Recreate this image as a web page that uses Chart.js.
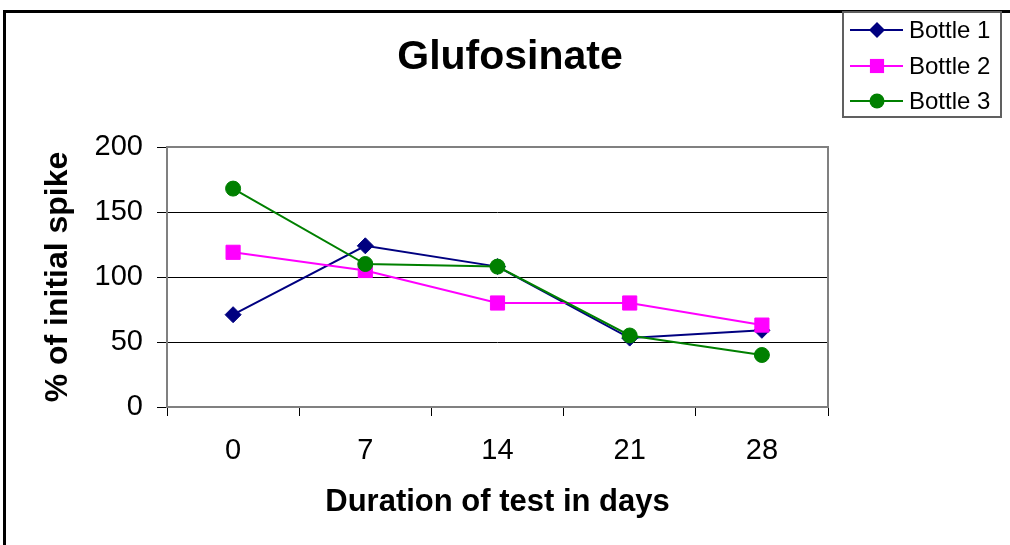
<!DOCTYPE html>
<html>
<head>
<meta charset="utf-8">
<script src="https://cdn.jsdelivr.net/npm/chart.js@4/dist/chart.umd.min.js"></script>
<style>
  html, body { margin: 0; padding: 0; background: #fff; }
  #wrap { width: 1010px; height: 545px; }
</style>
</head>
<body>
<div id="wrap"><canvas id="glufChart" width="1010" height="545"></canvas></div>
<script>
const days = ['0', '7', '14', '21', '28'];
const bottle1 = [71, 124, 108, 53, 59];
const bottle2 = [119, 105, 80, 80, 63];
const bottle3 = [168, 110, 108, 55, 40];
const yTicks = [0, 50, 100, 150, 200];
const chartTitle = 'Glufosinate';

const FONT = '"Liberation Sans", Arial, sans-serif';

// plot frame, outer chart border, title and boxed legend, Excel style
const excelBits = {
    id: 'excelBits',
    beforeDatasetsDraw(chart) {
        const { ctx, chartArea: a } = chart;
        ctx.save();
        ctx.strokeStyle = '#808080';
        ctx.lineWidth = 2;
        ctx.strokeRect(a.left, a.top, a.right - a.left, a.bottom - a.top);
        ctx.restore();
    },
    afterDraw(chart) {
        const ctx = chart.ctx;
        ctx.save();
        ctx.strokeStyle = '#000';
        ctx.lineWidth = 3;
        ctx.strokeRect(4.5, 11.5, 1020, 560);

        // chart title (centred on the whole chart, not the plot)
        ctx.fillStyle = '#000';
        ctx.font = 'bold 41px ' + FONT;
        ctx.textAlign = 'center';
        ctx.textBaseline = 'middle';
        ctx.fillText(chartTitle, 510, 58);

        // legend box
        ctx.strokeStyle = '#606060';
        ctx.lineWidth = 2;
        ctx.strokeRect(843, 12, 158, 105);
        const rows = [30, 66, 101];
        chart.data.datasets.forEach((ds, i) => {
            const y = rows[i];
            ctx.strokeStyle = ds.borderColor;
            ctx.lineWidth = 2;
            ctx.beginPath();
            ctx.moveTo(850, y);
            ctx.lineTo(903, y);
            ctx.stroke();
            ctx.fillStyle = ds.pointBackgroundColor;
            const x = 877, r = ds.pointRadius;
            ctx.beginPath();
            if (ds.pointStyle === 'rectRot') {
                ctx.moveTo(x - r, y); ctx.lineTo(x, y - r);
                ctx.lineTo(x + r, y); ctx.lineTo(x, y + r);
                ctx.closePath();
            } else if (ds.pointStyle === 'rect') {
                const s = r * Math.SQRT1_2;
                ctx.rect(x - s, y - s, 2 * s, 2 * s);
            } else {
                ctx.arc(x, y, r, 0, Math.PI * 2);
            }
            ctx.fill();
            ctx.fillStyle = '#000';
            ctx.font = '24px ' + FONT;
            ctx.textBaseline = 'middle';
            ctx.textAlign = 'left';
            ctx.fillText(ds.label, 909, y + 1);
        });
        ctx.restore();
    }
};

function series(label, data, color, style, radius, order) {
    return {
        label: label,
        data: data,
        borderColor: color,
        backgroundColor: color,
        pointBackgroundColor: color,
        pointBorderColor: color,
        pointBorderWidth: 1,
        pointStyle: style,
        pointRadius: radius,
        pointHoverRadius: radius,
        borderWidth: 2,
        tension: 0,
        order: order
    };
}

new Chart(document.getElementById('glufChart').getContext('2d'), {
    type: 'line',
    data: {
        labels: days,
        datasets: [
            series('Bottle 1', bottle1, '#000080', 'rectRot', 8, 3),
            series('Bottle 2', bottle2, '#FF00FF', 'rect', 10, 2),
            series('Bottle 3', bottle3, '#008000', 'circle', 7.5, 1)
        ]
    },
    options: {
        responsive: false,
        animation: false,
        events: [],
        layout: { padding: { left: 10, right: 182, top: 147, bottom: 0 } },
        plugins: {
            legend: { display: false },
            tooltip: { enabled: false },
            title: { display: false }
        },
        scales: {
            x: {
                offset: true,
                grid: {
                    offset: true,
                    drawOnChartArea: false,
                    drawTicks: true,
                    tickLength: 9,
                    color: '#000'
                },
                border: { display: false },
                ticks: {
                    color: '#000',
                    padding: 18,
                    maxRotation: 0,
                    font: { family: FONT, size: 29 }
                },
                title: {
                    display: true,
                    text: 'Duration of test in days',
                    color: '#000',
                    font: { family: FONT, size: 31, weight: 'bold' },
                    padding: { top: 0, bottom: 24 }
                },
                afterFit(scale) { scale.height = 138; }
            },
            y: {
                min: 0,
                max: 200,
                afterBuildTicks(scale) { scale.ticks = yTicks.map(v => ({ value: v })); },
                grid: {
                    color: '#000',
                    lineWidth: 1,
                    drawTicks: true,
                    tickLength: 10
                },
                border: { display: false },
                ticks: {
                    color: '#000',
                    padding: 14,
                    font: { family: FONT, size: 29 }
                },
                title: {
                    display: true,
                    text: '% of initial spike',
                    color: '#000',
                    font: { family: FONT, size: 32, weight: 'bold' },
                    padding: { top: 29, bottom: 0 }
                },
                afterFit(scale) { scale.width = 157; }
            }
        }
    },
    plugins: [excelBits]
});
</script>
</body>
</html>
